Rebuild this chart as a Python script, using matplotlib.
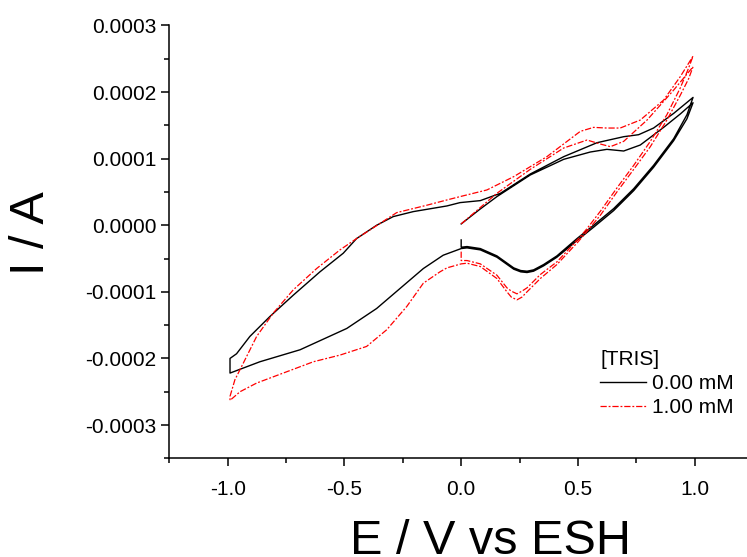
import numpy as np
import matplotlib
matplotlib.use('Agg')
import matplotlib.pyplot as plt
from matplotlib.ticker import MultipleLocator, FormatStrFormatter

plt.rcParams['font.family'] = ['Liberation Sans', 'DejaVu Sans']
plt.rcParams['axes.unicode_minus'] = False

# current values in units of 1e-4 A, potential in V
scale = 1e-4

# [TRIS] = 0.00 mM : scan 0 -> 1 -> -1 -> 1 -> 0
e_blank_fwd1 = [0.0, 0.08, 0.153, 0.296, 0.439, 0.553, 0.624, 0.696, 0.767, 0.867, 0.938, 0.993]
i_blank_fwd1 = [0.02, 0.24, 0.43, 0.755, 0.99, 1.10, 1.14, 1.115, 1.205, 1.47, 1.67, 1.84]
e_blank_rev1 = [0.993, 0.967, 0.910, 0.824, 0.739, 0.653, 0.567, 0.496, 0.410, 0.353, 0.31, 0.282,
                0.255, 0.225, 0.153, 0.082, 0.025, 0.0, -0.077, -0.162, -0.262, -0.362, -0.49,
                -0.69, -0.862, -0.99]
i_blank_rev1 = [1.84, 1.60, 1.27, 0.87, 0.52, 0.22, -0.03, -0.23, -0.48, -0.61, -0.69, -0.71,
                -0.70, -0.66, -0.48, -0.37, -0.34, -0.35, -0.45, -0.65, -0.95, -1.25, -1.55,
                -1.87, -2.05, -2.22]
e_blank_fwd2 = [-0.99, -0.962, -0.905, -0.819, -0.719, -0.605, -0.505, -0.448, -0.362, -0.291, -0.205,
                -0.061, -0.005, 0.082, 0.168, 0.296, 0.439, 0.582, 0.696, 0.760, 0.824, 0.91, 0.993]
i_blank_fwd2 = [-2.0, -1.93, -1.67, -1.37, -1.05, -0.70, -0.42, -0.20, 0.0, 0.13, 0.205,
                0.29, 0.34, 0.37, 0.48, 0.77, 1.03, 1.24, 1.33, 1.36, 1.46, 1.68, 1.92]
e_blank_rev2 = [0.993, 0.967, 0.910, 0.824, 0.739, 0.653, 0.567, 0.496, 0.410, 0.353, 0.31, 0.282,
                0.255, 0.225, 0.153, 0.082, 0.025, 0.0, 0.0]
i_blank_rev2 = [1.92, 1.66, 1.30, 0.90, 0.55, 0.25, 0.0, -0.20, -0.46, -0.59, -0.67, -0.69,
                -0.68, -0.64, -0.46, -0.35, -0.32, -0.33, -0.22]

# [TRIS] = 1.00 mM
e_tris_fwd1 = [0.0, 0.153, 0.296, 0.439, 0.539, 0.596, 0.639, 0.696, 0.796, 0.910, 0.993]
i_tris_fwd1 = [0.02, 0.48, 0.84, 1.16, 1.28, 1.22, 1.18, 1.26, 1.58, 2.03, 2.38]
e_tris_rev1 = [0.993, 0.974, 0.938, 0.881, 0.810, 0.739, 0.667, 0.596, 0.539, 0.503, 0.410, 0.339,
               0.282, 0.26, 0.239, 0.215, 0.196, 0.153, 0.082, 0.025, 0.0, -0.061, -0.091, -0.162,
               -0.233, -0.319, -0.405, -0.519, -0.633, -0.747, -0.876, -0.947, -0.99]
i_tris_rev1 = [2.38, 2.20, 1.95, 1.58, 1.18, 0.84, 0.50, 0.15, -0.09, -0.24, -0.59, -0.80,
               -1.00, -1.08, -1.12, -1.08, -1.00, -0.80, -0.62, -0.57, -0.58, -0.64, -0.70, -0.87,
               -1.22, -1.57, -1.82, -1.95, -2.05, -2.20, -2.37, -2.50, -2.63]
e_tris_fwd2 = [-0.99, -0.969, -0.933, -0.876, -0.805, -0.719, -0.619, -0.519, -0.448, -0.276, -0.148,
               -0.061, -0.005, 0.11, 0.225, 0.367, 0.510, 0.567, 0.624, 0.681, 0.767, 0.867, 0.938, 0.993]
i_tris_fwd2 = [-2.57, -2.32, -2.07, -1.67, -1.32, -0.97, -0.65, -0.37, -0.20, 0.19, 0.30,
               0.38, 0.43, 0.53, 0.73, 1.03, 1.41, 1.47, 1.46, 1.46, 1.58, 1.88, 2.23, 2.54]
e_tris_rev2 = [0.993, 0.974, 0.938, 0.881, 0.810, 0.739, 0.667, 0.596, 0.539, 0.503, 0.410, 0.339,
               0.282, 0.26, 0.239, 0.215, 0.196, 0.153, 0.082, 0.025, 0.0, 0.0]
i_tris_rev2 = [2.54, 2.36, 2.06, 1.66, 1.26, 0.90, 0.56, 0.21, -0.05, -0.20, -0.55, -0.74,
               -0.94, -0.99, -1.03, -0.99, -0.94, -0.75, -0.58, -0.53, -0.53, -0.38]

e_blank = e_blank_fwd1 + e_blank_rev1 + e_blank_fwd2 + e_blank_rev2
i_blank = np.array(i_blank_fwd1 + i_blank_rev1 + i_blank_fwd2 + i_blank_rev2) * scale
e_tris = e_tris_fwd1 + e_tris_rev1 + e_tris_fwd2 + e_tris_rev2
i_tris = np.array(i_tris_fwd1 + i_tris_rev1 + i_tris_fwd2 + i_tris_rev2) * scale

fig = plt.figure(figsize=(7.47, 5.57), dpi=100)
ax = fig.add_axes([169.3/747, (557-458.3)/557, 583.75/747, (458.3-25.5)/557])

l1, = ax.plot(e_blank, i_blank, color='k', lw=1.0, solid_joinstyle='round', label='0.00 mM')
l2, = ax.plot(e_tris, i_tris, color='red', lw=0.9, ls=(0, (5, 1.5, 1.5, 1.5)),
              dash_joinstyle='round', label='1.00 mM')

ax.set_xlim(-1.25, 1.25)
ax.set_ylim(-0.00035, 0.0003)
ax.xaxis.set_major_locator(MultipleLocator(0.5))
ax.xaxis.set_minor_locator(MultipleLocator(0.25))
ax.yaxis.set_major_locator(MultipleLocator(0.0001))
ax.yaxis.set_minor_locator(MultipleLocator(0.00005))
ax.xaxis.set_major_formatter(FormatStrFormatter('%.1f'))
ax.yaxis.set_major_formatter(FormatStrFormatter('%.4f'))

for s in ['top', 'right']:
    ax.spines[s].set_visible(False)
for s in ['left', 'bottom']:
    ax.spines[s].set_linewidth(1.1)
ax.tick_params(which='major', direction='out', length=5.8, width=1.1, labelsize=15)
ax.tick_params(which='minor', direction='out', length=3.6, width=1.1)
ax.tick_params(axis='y', which='major', pad=3.6)
ax.tick_params(axis='x', which='major', pad=10)

fig.text(31/747, 1-233/557, 'I / A', rotation=90, ha='center', va='center', fontsize=35)
fig.text(491/747, 0.006, 'E / V vs ESH', ha='center', va='baseline', fontsize=35)

leg = ax.legend(handles=[l1, l2], title='[TRIS]', loc='upper left',
                bbox_to_anchor=(600/747, 1-350/557), bbox_transform=fig.transFigure,
                frameon=False, fontsize=15, title_fontsize=15, alignment='left',
                handlelength=2.2, handletextpad=0.3, labelspacing=0.25,
                borderpad=0, borderaxespad=0)

fig.savefig('out.png', dpi=100)
